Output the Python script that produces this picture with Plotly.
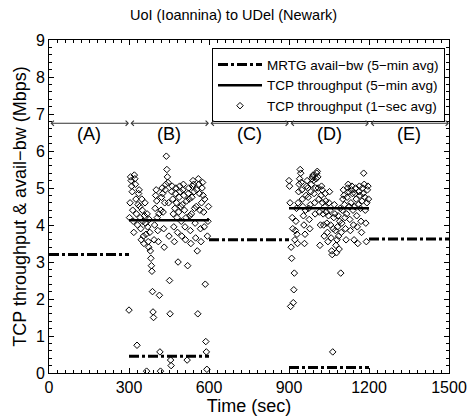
import plotly.graph_objects as go

# ---------------- data ----------------
mrtg_x = [0, 300, None, 300, 600, None, 600, 900, None, 900, 1200, None, 1200, 1500]
mrtg_y = [3.2, 3.2, None, 0.45, 0.45, None, 3.6, 3.6, None, 0.15, 0.15, None, 3.62, 3.62]

tcp5_x = [300, 600, None, 900, 1200]
tcp5_y = [4.13, 4.13, None, 4.45, 4.45]

b_start = 300
b_vals = [
    1.70, 4.20, 4.60, 5.30, 5.20, 5.05, 4.90, 4.40, 4.10, 3.80,
    5.35, 5.25, 5.10, 4.70, 4.30, 0.75, 4.00, 4.55, 4.85, 4.95,
    4.50, 4.20, 3.90, 3.60, 4.70, 4.40, 4.10, 3.70, 3.50, 4.25,
    4.60, 4.05, 3.75, 0.05, 4.30, 3.95, 3.55, 3.40, 4.15, 3.80,
    3.30, 3.10, 2.90, 2.75, 2.20, 1.65, 1.50, 3.60, 4.00, 4.45,
    4.80, 4.95, 4.65, 4.20, 3.85, 3.55, 4.30, 2.10, 0.57, 0.05,
    4.40, 4.75, 5.00, 4.85, 4.35, 3.90, 3.40, 4.60, 4.95, 5.10,
    5.86, 5.50, 5.30, 5.15, 4.60, 3.70, 2.50, 1.60, 0.35, 0.20,
    4.90, 5.05, 4.70, 4.30, 3.95, 3.55, 4.45, 4.85, 5.00, 4.60,
    4.20, 3.80, 3.00, 4.35, 4.75, 5.05, 4.90, 4.50, 4.10, 3.70,
    4.55, 4.95, 5.10, 4.80, 4.40, 3.95, 3.60, 4.20, 4.65, 0.35,
    2.90, 4.85, 5.00, 4.70, 4.25, 3.85, 3.50, 4.30, 4.75, 5.05,
    5.20, 5.10, 4.90, 4.45, 4.05, 3.65, 4.50, 4.95, 3.30, 1.60,
    5.25, 5.10, 4.85, 4.40, 3.90, 3.55, 4.60, 5.00, 5.15, 4.80,
    4.35, 3.95, 4.70, 2.40, 0.85, 0.57, 0.10, 3.70, 4.10, 4.50,
]

d_start = 900
d_vals = [
    5.20, 5.05, 4.60, 1.80, 3.40, 3.10, 4.20, 3.90, 1.90, 2.25,
    2.70, 3.60, 3.85, 4.10, 4.45, 3.75, 3.50, 4.60, 4.90, 5.10,
    5.25, 5.50, 5.40, 5.15, 4.95, 4.70, 4.50, 4.25, 4.00, 3.50,
    3.75, 4.40, 4.80, 5.05, 5.20, 5.00, 4.75, 4.45, 4.15, 3.90,
    4.55, 4.90, 5.10, 5.25, 5.30, 5.35, 5.20, 4.85, 4.60, 4.30,
    5.00, 5.25, 5.40, 5.45, 5.30, 5.00, 4.70, 4.35, 3.45, 4.00,
    4.80, 5.05, 4.95, 4.60, 4.30, 4.00, 3.70, 4.50, 4.85, 4.65,
    4.35, 4.05, 3.80, 3.55, 4.25, 4.60, 4.90, 4.40, 4.00, 3.65,
    3.30, 3.20, 0.57, 3.90, 4.20, 4.55, 4.30, 3.85, 3.45, 3.25,
    3.60, 3.95, 4.25, 3.70, 3.35, 4.10, 4.45, 2.70, 3.80, 4.05,
    4.40, 4.70, 4.95, 4.80, 4.55, 4.20, 3.90, 3.60, 4.30, 4.75,
    5.00, 5.10, 4.90, 4.50, 4.15, 3.85, 4.60, 4.95, 5.05, 4.85,
    4.40, 4.00, 3.60, 4.50, 4.85, 5.00, 4.70, 4.25, 3.95, 3.50,
    4.55, 4.90, 5.05, 4.80, 4.45, 4.10, 3.80, 4.65, 5.00, 4.85,
    5.40, 5.10, 4.75, 4.40, 4.05, 3.55, 4.60, 4.95, 5.05, 4.70,
]
sample_step = 2

phase_bounds = [0, 300, 600, 900, 1200, 1500]
phase_labels = ["(A)", "(B)", "(C)", "(D)", "(E)"]
arrow_level = 6.75
label_level = 6.45

# ---------------- figure ----------------
FONT = "Liberation Sans, Arial, Helvetica, sans-serif"
W, H = 467, 416

sec_x = [b_start + i * sample_step for i in range(len(b_vals))] + \
        [d_start + i * sample_step for i in range(len(d_vals))]
sec_y = b_vals + d_vals

fig = go.Figure()
fig.add_trace(go.Scatter(
    x=mrtg_x, y=mrtg_y, mode="lines", name="MRTG avail\u2212bw (5\u2212min avg)",
    line=dict(color="black", width=3, dash="10px,3px,3px,3px"),
))
fig.add_trace(go.Scatter(
    x=tcp5_x, y=tcp5_y, mode="lines", name="TCP throughput (5\u2212min avg)",
    line=dict(color="black", width=2.5),
))
fig.add_trace(go.Scatter(
    x=sec_x, y=sec_y, mode="markers", name="TCP throughput (1\u2212sec avg)",
    marker=dict(symbol="diamond-open", size=5, color="black", line=dict(width=1, color="black")),
))

for i, lab in enumerate(phase_labels):
    x0, x1 = phase_bounds[i], phase_bounds[i + 1]
    fig.add_annotation(
        x=x1, y=arrow_level, ax=x0, ay=arrow_level,
        xref="x", yref="y", axref="x", ayref="y",
        text="", showarrow=True, arrowhead=4, arrowside="end+start",
        arrowsize=1, arrowwidth=1, arrowcolor="#333333",
    )
    fig.add_annotation(
        x=(x0 + x1) / 2, y=label_level, xref="x", yref="y",
        text=lab, showarrow=False, font=dict(size=18, color="black", family=FONT),
    )

fig.update_layout(
    width=W, height=H,
    margin=dict(l=49, r=18, t=40, b=43, autoexpand=False),
    paper_bgcolor="white", plot_bgcolor="white",
    font=dict(family=FONT, color="black", size=16),
    title=dict(text="UoI (Ioannina) to UDel (Newark)", x=0.5, xanchor="center",
               y=1 - 15 / H, yanchor="middle", font=dict(size=14.5)),
    showlegend=True,
    hovermode=False,
    legend=dict(
        x=0.99, y=0.975, xanchor="right", yanchor="top",
        bgcolor="white", bordercolor="black", borderwidth=1,
        font=dict(size=13.5), tracegroupgap=0, itemwidth=44,
    ),
)
fig.update_xaxes(
    range=[0, 1500], tickvals=[0, 300, 600, 900, 1200, 1500],
    ticks="inside", ticklen=5, tickwidth=1, tickcolor="black",
    minor=dict(dtick=30, ticks="inside", ticklen=3, tickcolor="black"),
    showline=True, linecolor="black", linewidth=1, mirror="ticks",
    showgrid=False, zeroline=False, automargin=False,
    title=dict(text="Time (sec)", standoff=0, font=dict(size=18)),
    tickfont=dict(size=16),
)
fig.update_yaxes(
    range=[0, 9], dtick=1,
    ticks="inside", ticklen=5, tickwidth=1, tickcolor="black",
    minor=dict(dtick=0.2, ticks="inside", ticklen=3, tickcolor="black"),
    showline=True, linecolor="black", linewidth=1, mirror="ticks",
    showgrid=False, zeroline=False, automargin=False,
    title=dict(text="TCP throughput & avail\u2212bw (Mbps)", standoff=4, font=dict(size=18)),
    tickfont=dict(size=16),
)

fig.write_html("out.html", config={"displayModeBar": False, "staticPlot": True},
               post_script="document.body.style.margin='0';")
